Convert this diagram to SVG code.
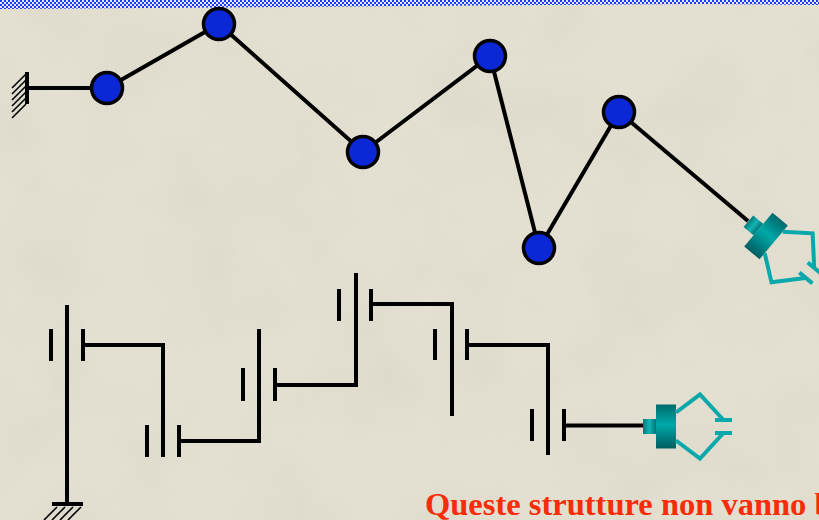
<svg xmlns="http://www.w3.org/2000/svg" xmlns:xlink="http://www.w3.org/1999/xlink" width="819" height="520" viewBox="0 0 819 520">
  <style>
    .link { fill: none; stroke: #000; stroke-width: 4; stroke-linecap: butt; stroke-linejoin: miter; }
    .bar { stroke: #000; stroke-width: 4; }
    .hatch { stroke: #000; stroke-width: 1.6; }
    .joint { fill: #0a28d6; stroke: #000; stroke-width: 3.5; }
    .finger { fill: none; stroke: #0aa8aa; stroke-width: 4; stroke-linejoin: miter; }
    .caption { font-family: "Liberation Serif", "Times New Roman", serif; font-weight: bold; font-size: 32.5px; fill: #f82c08; }
  </style>
  <defs>
    <pattern id="checker" x="0" y="0" width="4" height="4" patternUnits="userSpaceOnUse">
      <rect width="4" height="4" fill="#e6e8f6"/>
      <rect width="2" height="2" fill="#1b3cf2"/>
      <rect x="2" y="2" width="2" height="2" fill="#1b3cf2"/>
    </pattern>
    <linearGradient id="tealBlock" x1="0" y1="0" x2="0" y2="1">
      <stop offset="0" stop-color="#006a6c"/>
      <stop offset="0.45" stop-color="#00a8a8"/>
      <stop offset="1" stop-color="#005e62"/>
    </linearGradient>
    <linearGradient id="tealStub" x1="0" y1="0" x2="1" y2="0">
      <stop offset="0" stop-color="#00787a"/>
      <stop offset="0.5" stop-color="#14b4b4"/>
      <stop offset="1" stop-color="#007476"/>
    </linearGradient>
    <filter id="mottle" x="0" y="0" width="100%" height="100%">
      <feTurbulence type="fractalNoise" baseFrequency="0.012" numOctaves="3" seed="7"/>
      <feColorMatrix type="matrix" values="0 0 0 0 0.55  0 0 0 0 0.53  0 0 0 0 0.45  0 0 0 0.9 -0.35"/>
    </filter>
    <!-- gripper drawn along +x from its mounting point -->
    <g id="gripper">
      <rect x="0" y="-7.5" width="13" height="15" fill="url(#tealStub)"/>
      <rect x="13" y="-22" width="20" height="44" fill="url(#tealBlock)"/>
      <polyline class="finger" points="33,-14 57,-32 80,-7"/>
      <line class="finger" x1="72" y1="-6.5" x2="89" y2="-6.5"/>
      <polyline class="finger" points="33,14 57,32 80,7"/>
      <line class="finger" x1="72" y1="6.5" x2="89" y2="6.5"/>
    </g>
  </defs>

  <!-- background -->
  <rect width="819" height="520" fill="#e3e0d1"/>
  <rect width="819" height="520" filter="url(#mottle)" opacity="0.35"/>
  <polygon points="0,0 819,0 819,5 700,4 0,9" fill="url(#checker)"/>

  <!-- links -->
  <g id="connectors">
    <polyline class="link" points="27,88 107,88 219,24 363,152 490,56 539,248 619,112 748,221"/>
    <path class="link" d="M67,305 V504"/>
    <path class="link" d="M83,345 H163 V457"/>
    <path class="link" d="M179,441 H259 V329"/>
    <path class="link" d="M275,385 H356 V273"/>
    <path class="link" d="M371,304 H452 V416"/>
    <path class="link" d="M467,345 H548 V455"/>
    <path class="link" d="M564,425.5 H644"/>
  </g>

  <!-- serial arm, top -->
  <g id="top-base">
    <line class="bar" x1="27" y1="72" x2="27" y2="104"/>
    <line class="hatch" x1="26" y1="74" x2="12" y2="88"/>
    <line class="hatch" x1="26" y1="80" x2="12" y2="94"/>
    <line class="hatch" x1="26" y1="86" x2="12" y2="100"/>
    <line class="hatch" x1="26" y1="92" x2="12" y2="106"/>
    <line class="hatch" x1="26" y1="98" x2="12" y2="112"/>
    <line class="hatch" x1="26" y1="104" x2="12" y2="118"/>
  </g>
  <g id="top-joint-1"><circle class="joint" cx="107" cy="88" r="15.5"/></g>
  <g id="top-joint-2"><circle class="joint" cx="219" cy="24" r="15.5"/></g>
  <g id="top-joint-3"><circle class="joint" cx="363" cy="152" r="15.5"/></g>
  <g id="top-joint-4"><circle class="joint" cx="490" cy="56" r="15.5"/></g>
  <g id="top-joint-5"><circle class="joint" cx="539" cy="248" r="15.5"/></g>
  <g id="top-joint-6"><circle class="joint" cx="619" cy="112" r="15.5"/></g>
  <g id="top-gripper"><use xlink:href="#gripper" href="#gripper" transform="translate(748.4,221.2) rotate(40)"/></g>

  <!-- serial arm, bottom (joint symbols) -->
  <g id="bottom-base">
    <line class="bar" x1="52" y1="504" x2="83" y2="504" stroke-width="5"/>
    <line class="hatch" x1="57" y1="507" x2="44" y2="520"/>
    <line class="hatch" x1="65" y1="507" x2="52" y2="520"/>
    <line class="hatch" x1="73" y1="507" x2="60" y2="520"/>
    <line class="hatch" x1="81" y1="507" x2="68" y2="520"/>
  </g>
  <g id="bottom-joint-1">
    <line class="bar" x1="51" y1="329" x2="51" y2="361"/>
    <line class="bar" x1="83" y1="329" x2="83" y2="361"/>
  </g>
  <g id="bottom-joint-2">
    <line class="bar" x1="147" y1="425" x2="147" y2="457"/>
    <line class="bar" x1="179" y1="425" x2="179" y2="457"/>
  </g>
  <g id="bottom-joint-3">
    <line class="bar" x1="243" y1="368" x2="243" y2="401"/>
    <line class="bar" x1="275" y1="368" x2="275" y2="401"/>
  </g>
  <g id="bottom-joint-4">
    <line class="bar" x1="339" y1="289" x2="339" y2="321"/>
    <line class="bar" x1="371" y1="289" x2="371" y2="321"/>
  </g>
  <g id="bottom-joint-5">
    <line class="bar" x1="435" y1="329" x2="435" y2="360"/>
    <line class="bar" x1="467" y1="329" x2="467" y2="360"/>
  </g>
  <g id="bottom-joint-6">
    <line class="bar" x1="532" y1="409" x2="532" y2="441"/>
    <line class="bar" x1="564" y1="409" x2="564" y2="441"/>
  </g>
  <g id="bottom-gripper"><use xlink:href="#gripper" href="#gripper" transform="translate(643,426.5)"/></g>

  <text class="caption" x="425" y="515">Queste strutture non vanno b</text>
</svg>
